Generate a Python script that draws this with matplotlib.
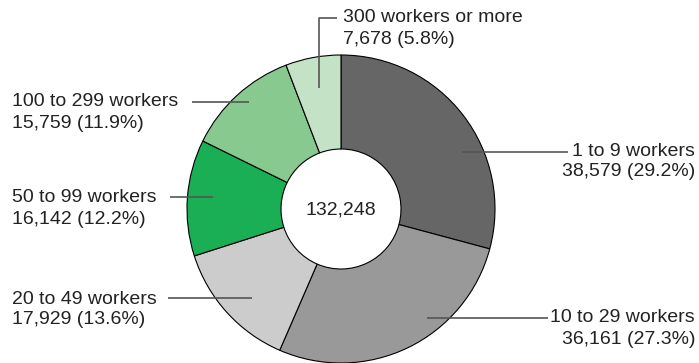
import matplotlib
matplotlib.use("Agg")
import matplotlib.pyplot as plt

plt.rcParams['font.family'] = ['Liberation Sans', 'DejaVu Sans']

# establishments by number of workers
categories = ["1 to 9 workers", "10 to 29 workers", "20 to 49 workers",
              "50 to 99 workers", "100 to 299 workers", "300 workers or more"]
counts = [38579, 36161, 17929, 16142, 15759, 7678]
shares = [29.2, 27.3, 13.6, 12.2, 11.9, 5.8]
colors = ["#666666", "#999999", "#cccccc", "#1aaf54", "#88c98f", "#c4e2c5"]

total = sum(counts)

W, H = 699, 363
fig = plt.figure(figsize=(W / 100, H / 100), dpi=100)
ax = fig.add_axes([0, 0, 1, 1])

cx, cy = 341, 209
r_out, r_in = 154, 60

# y axis runs downward, so counterclock in data = clockwise on screen
ax.pie(counts, colors=colors, center=(cx, cy), radius=r_out,
       startangle=270, counterclock=True,
       wedgeprops=dict(width=r_out - r_in, edgecolor="black", linewidth=0.8))

ax.set_xlim(0, W)
ax.set_ylim(H, 0)
ax.set_aspect("auto")
ax.axis("off")

ax.text(cx, cy + 1, f"{total:,}", ha="center", va="center",
        fontsize=14, color="#222222")

fs = 14
tc = "#222222"
lc = "#555555"
gap = 21

# (text x, first line y, alignment, leader line points)
layout = [
    (695, 151, "right", [(462, 152), (568, 152)]),
    (695, 318, "right", [(427, 318), (548, 318)]),
    (12, 299, "left", [(252, 298), (168, 298)]),
    (12, 198, "left", [(213, 197), (170, 197)]),
    (12, 102, "left", [(249, 102), (192, 102)]),
    (343, 18, "left", [(319, 88), (319, 18), (337, 18)]),
]

for name, n, pct, (tx, ty, ha, pts) in zip(categories, counts, shares, layout):
    xs = [p[0] for p in pts]
    ys = [p[1] for p in pts]
    ax.plot(xs, ys, color=lc, linewidth=1.2, solid_capstyle="butt")
    ax.text(tx, ty, name, ha=ha, va="center", fontsize=fs, color=tc)
    ax.text(tx, ty + gap, f"{n:,} ({pct}%)", ha=ha, va="center",
            fontsize=fs, color=tc)

fig.savefig("out.png", dpi=100)
